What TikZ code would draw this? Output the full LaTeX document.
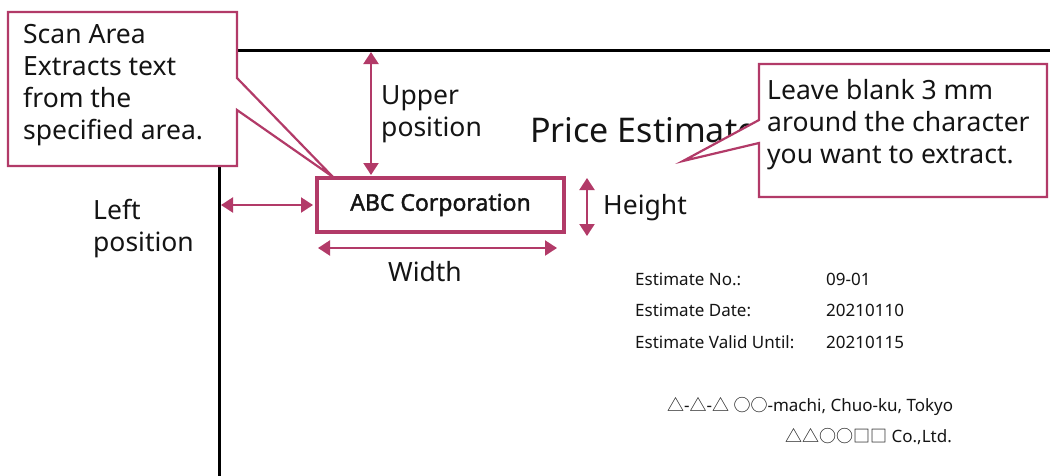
\documentclass[tikz,border=0pt]{standalone}
\usepackage{fontspec}
\setmainfont{Noto Sans}
\newfontfamily\cjk{Noto Sans CJK JP}
\newfontfamily\abcfont[FakeBold=1.6]{Noto Sans}
\usetikzlibrary{arrows.meta}
\definecolor{crim}{RGB}{178,58,104}
\definecolor{ink}{RGB}{20,20,20}
\tikzset{
  calloutbox/.style={draw=crim, line width=2.2pt, fill=white, line join=miter},
  dimarrow/.style={draw=crim, line width=2.2pt, {Triangle[length=12pt,width=15pt]}-{Triangle[length=12pt,width=15pt]}},
  big/.style={font=\fontsize{26.5}{32}\selectfont, text=ink, inner sep=0pt, align=left},
  small/.style={font=\fontsize{17}{20}\selectfont, text=ink, inner sep=0pt, anchor=west},
}
\begin{document}
\begin{tikzpicture}[x=1pt,y=-1pt]
\useasboundingbox (0,0) rectangle (1050,475);
% page edges
\coordinate (pgtl) at (219,50);
\coordinate (pgtr) at (1052,50);
\coordinate (pgbl) at (219,477);
\draw[black, line width=3pt] (pgbl) -- (pgtl) -- (pgtr);
% title
\node[font=\fontsize{34}{40}\selectfont, text=ink, inner sep=0pt, anchor=west] (title) at (530,130) {Price Estimate};
% scan area box
\node[draw=crim, line width=4pt, minimum width=247pt, minimum height=54pt, inner sep=0pt,
      font=\fontsize{23}{24}\selectfont\abcfont, text=ink] (abc) at (440.5,205) {\raisebox{-1.5pt}{ABC Corporation}};
% dimension arrows
\coordinate (uptop) at (371,52);
\coordinate (upbot) at (371,175);
\draw[dimarrow] (uptop) -- (upbot);
\node[big, anchor=west] (upper) at (381,114) {Upper\\position};
\coordinate (lfa) at (221,205);
\coordinate (lfb) at (313,205);
\draw[dimarrow] (lfa) -- (lfb);
\node[big, anchor=west] (left) at (93,229) {Left\\position};
\coordinate (hta) at (587,178);
\coordinate (htb) at (587,236);
\draw[dimarrow] (hta) -- (htb);
\node[big, anchor=west] (height) at (603,208) {Height};
\coordinate (wda) at (318,248);
\coordinate (wdb) at (557,248);
\draw[dimarrow] (wda) -- (wdb);
\node[big, anchor=center] (width) at (425,272) {Width};
% table
\node[small] (k1) at (635,279) {Estimate No.:};
\node[small] (v1) at (826,279) {09-01};
\node[small] (k2) at (635,310) {Estimate Date:};
\node[small] (v2) at (826,310) {20210110};
\node[small] (k3) at (635,342) {Estimate Valid Until:};
\node[small] (v3) at (826,342) {20210115};
\node[small] (addr) at (667,406) {{\cjk △}-{\cjk △}-{\cjk △} {\cjk ○○}-machi, Chuo-ku, Tokyo};
\node[small] (corp) at (785,437) {{\cjk △△○○□□} Co.,Ltd.};
% callout 1
\coordinate (tip1) at (333,177);
\draw[calloutbox] (8,12) -- (237,12) -- (237,78) -- (tip1) -- (237,110) -- (237,166) -- (8,166) -- cycle;
\node[big, anchor=west] (scan) at (23,85) {Scan Area\\Extracts text\\from the\\specified area.};
% callout 2
\coordinate (tip2) at (683,161);
\draw[calloutbox] (759,64) -- (1047,64) -- (1047,197) -- (759,197) -- (759,143) -- (tip2) -- (759,120) -- cycle;
\node[big, anchor=west] (blank) at (767,125) {Leave blank 3 mm\\around the character\\you want to extract.};
\end{tikzpicture}
\end{document}
